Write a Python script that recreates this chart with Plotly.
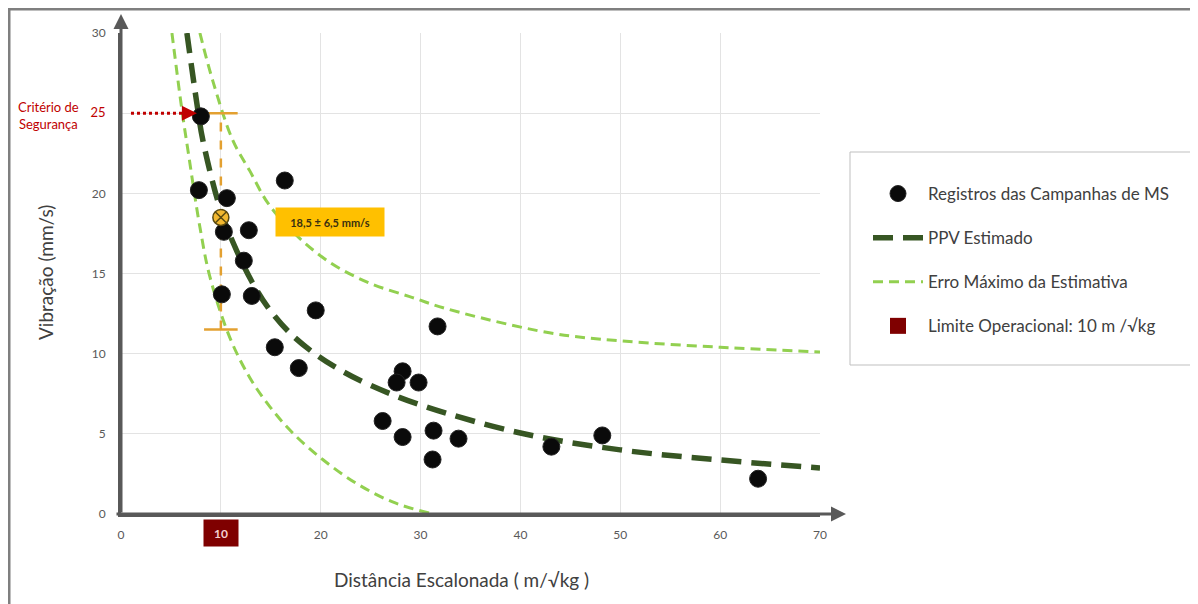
import plotly.graph_objects as go

# ---- data ----
dist = [8.0, 7.8, 10.6, 10.3, 12.8, 12.3, 10.1, 13.1, 16.4, 19.5, 15.4, 17.8,
        31.7, 28.2, 27.6, 29.8, 26.2, 28.2, 31.3, 33.8, 31.2, 43.1, 48.2, 63.8]
vib = [24.8, 20.2, 19.7, 17.6, 17.7, 15.8, 13.7, 13.6, 20.8, 12.7, 10.4, 9.1,
       11.7, 8.9, 8.2, 8.2, 5.8, 4.8, 5.2, 4.7, 3.4, 4.2, 4.9, 2.2]

ppv_x = [6.6, 7.6, 8.2, 10.0, 11.6, 13.1, 14.7, 16.9, 19.4, 21.9, 24.9, 30, 40, 50, 60, 70]
ppv_y = [30, 25.6, 23.3, 18.9, 16.4, 14.5, 12.9, 11.3, 10.0, 9.0, 8.05, 6.8, 5.05, 4.0, 3.37, 2.87]

up_x = [7.9, 9.2, 11.2, 12.9, 14.7, 17.2, 20.9, 24.9, 29.2, 32.6, 42.9, 50, 60, 70]
up_y = [30, 27.0, 23.3, 21.4, 19.4, 17.6, 15.7, 14.4, 13.5, 12.8, 11.3, 10.8, 10.4, 10.1]

lo_x = [5.1, 6.1, 6.7, 7.9, 8.9, 10.9, 12.9, 14.9, 17.2, 20.2, 23.6, 27.2, 30.9]
lo_y = [30, 25.2, 22.7, 17.9, 14.8, 11.0, 8.5, 6.7, 5.05, 3.4, 1.9, 0.75, 0.05]

est_x = 10
est_y = 18.5
est_top = 25
est_bottom = 11.5
criterio = 25
limite = 10

x_ticks = [0, 10, 20, 30, 40, 50, 60, 70]
x_ticktext = ["0", "", "20", "30", "40", "50", "60", "70"]
y_ticks = [0, 5, 10, 15, 20, 25, 30]
y_ticktext = ["0", "5", "10", "15", "20",
              "<span style='color:#C00000;font-size:13px'>25</span>", "30"]

DARK = "#375623"
LIGHT = "#92D050"
ORANGE = "#E3A030"
FONT = "Lato"

# page body has an 8px margin; work in reference pixel coordinates
OFF = 8
W, H = 1198 - OFF, 604 - OFF
PX0, PY0, PW, PH = 121, 33, 699, 481


def px(x):
    return (x - PX0) / PW


def py(y):
    return (PY0 + PH - y) / PH


fig = go.Figure()

fig.add_trace(go.Scatter(x=up_x, y=up_y, mode="lines", name="Erro Máximo da Estimativa",
                         line=dict(color=LIGHT, width=3, dash="10px,6px", shape="spline"),
                         legendgroup="erro", legendrank=3, showlegend=True))
fig.add_trace(go.Scatter(x=lo_x, y=lo_y, mode="lines", name="Erro Máximo da Estimativa",
                         line=dict(color=LIGHT, width=3, dash="10px,6px", shape="spline"),
                         legendgroup="erro", showlegend=False))
fig.add_trace(go.Scatter(x=ppv_x, y=ppv_y, mode="lines", name="PPV Estimado",
                         line=dict(color=DARK, width=5.5, dash="20px,10px", shape="spline"),
                         legendgroup="ppv", legendrank=2))
fig.add_trace(go.Scatter(x=[1, 7.0], y=[criterio, criterio], mode="lines",
                         line=dict(color="#C00000", width=3, dash="dot"),
                         showlegend=False, cliponaxis=False, hoverinfo="skip"))
fig.add_trace(go.Scatter(x=[est_x, est_x], y=[est_bottom, est_top], mode="lines+markers",
                         line=dict(color=ORANGE, width=2.5, dash="dash"),
                         marker=dict(symbol="line-ew-open", size=24,
                                     line=dict(color=ORANGE, width=2.5)),
                         showlegend=False, hoverinfo="skip"))
fig.add_trace(go.Scatter(x=dist, y=vib, mode="markers", name="Registros das Campanhas de MS",
                         marker=dict(color="#0A0A0A", size=17, line=dict(color="#222", width=1)),
                         legendgroup="reg", legendrank=1, cliponaxis=False))
fig.add_trace(go.Scatter(x=[est_x], y=[est_y], mode="markers",
                         marker=dict(symbol="circle-x", size=16, color="#F2B830",
                                     line=dict(color="#5A4A10", width=1.5)),
                         showlegend=False, hoverinfo="skip"))
fig.add_trace(go.Scatter(x=[None], y=[None], mode="markers",
                         name="Limite Operacional: 10 m /√kg",
                         marker=dict(symbol="square", size=22, color="#7F0000"),
                         legendgroup="lim", legendrank=4))

annotations = [
    dict(x=px(846), y=0, xref="paper", yref="paper", ax=-731, ay=0, axref="pixel", ayref="pixel",
         showarrow=True, arrowhead=2, arrowsize=1, arrowwidth=3, arrowcolor="#595959", text=""),
    dict(x=0, y=py(14), xref="paper", yref="paper", ax=0, ay=500, axref="pixel", ayref="pixel",
         showarrow=True, arrowhead=2, arrowsize=1, arrowwidth=3, arrowcolor="#595959", text=""),
    dict(x=7.6, y=criterio, xref="x", yref="y", ax=6.6, ay=criterio, axref="x", ayref="y",
         showarrow=True, arrowhead=2, arrowsize=1, arrowwidth=3, arrowcolor="#C00000", text=""),
    dict(x=px(48), y=py(115), xref="paper", yref="paper", xanchor="center", yanchor="middle",
         text="Critério de<br>Segurança", showarrow=False,
         font=dict(family=FONT, size=13, color="#C00000"), align="center"),
    dict(x=20.9, y=18.2, xref="x", yref="y", xanchor="center", yanchor="middle",
         text="<b>18,5 ± 6,5 mm/s</b>", showarrow=False,
         bgcolor="#FFC000", font=dict(family=FONT, size=11, color="#3A3010"),
         width=106, height=26),
    dict(x=limite, y=0, xref="x", yref="y", xanchor="center", yanchor="top", yshift=-5,
         text="<b>10</b>", showarrow=False, bgcolor="#7F0000",
         font=dict(family=FONT, size=12, color="#F4D0D0"), width=32, height=24),
    dict(x=px(461), y=py(579), xref="paper", yref="paper", xanchor="center", yanchor="middle",
         text="Distância Escalonada ( m/√kg )", showarrow=False,
         font=dict(family=FONT, size=19, color="#404040")),
    dict(x=px(45), y=py(273), xref="paper", yref="paper", xanchor="center", yanchor="middle",
         text="Vibração (mm/s)", textangle=-90, showarrow=False,
         font=dict(family=FONT, size=19, color="#404040")),
]

shapes = [
    dict(type="rect", xref="paper", yref="paper", x0=px(850), x1=px(1195), y0=py(365), y1=py(152),
         line=dict(color="#BFBFBF", width=1), fillcolor="white", layer="below"),
    dict(type="line", xref="paper", yref="paper", x0=px(8), x1=px(1198), y0=py(9), y1=py(9),
         line=dict(color="#7F7F7F", width=3)),
    dict(type="line", xref="paper", yref="paper", x0=px(9), x1=px(9), y0=py(9), y1=py(604),
         line=dict(color="#7F7F7F", width=3)),
]

fig.update_layout(
    width=W, height=H,
    margin=dict(l=PX0 - OFF, r=W - (PX0 - OFF) - PW, t=PY0 - OFF, b=H - (PY0 - OFF) - PH),
    plot_bgcolor="white", paper_bgcolor="white",
    font=dict(family=FONT, color="#404040"),
    xaxis=dict(range=[0, 70], tickvals=x_ticks, ticktext=x_ticktext, showgrid=True,
               gridcolor="#E3E3E3", gridwidth=1, zeroline=False, showline=True,
               linecolor="#595959", linewidth=3, ticks="", ticklabelstandoff=8,
               tickfont=dict(family=FONT, size=12, color="#595959")),
    yaxis=dict(range=[0, 30], tickvals=y_ticks, ticktext=y_ticktext, showgrid=True,
               gridcolor="#E3E3E3", gridwidth=1, zeroline=False, showline=True,
               linecolor="#595959", linewidth=3, ticks="", ticklabelstandoff=10,
               tickfont=dict(family=FONT, size=12, color="#595959")),
    legend=dict(x=px(868), y=py(176), xanchor="left", yanchor="top",
                bgcolor="rgba(0,0,0,0)", borderwidth=0, tracegroupgap=19,
                itemwidth=50, font=dict(family=FONT, size=17, color="#404040"),
                traceorder="grouped"),
    annotations=annotations,
    shapes=shapes,
    showlegend=True,
)

fig.write_html("out.html")
